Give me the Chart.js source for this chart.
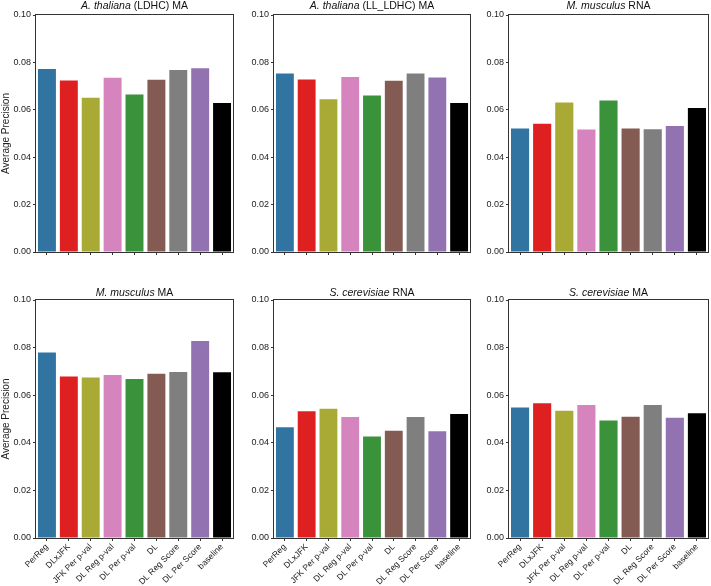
<!DOCTYPE html>
<html>
<head>
<meta charset="utf-8">
<script src="https://cdn.jsdelivr.net/npm/chart.js@4.4.1/dist/chart.umd.min.js"></script>
<style>
  body { margin: 0; background: #fff; }
  #wrap { position: relative; width: 711px; height: 586px; overflow: hidden; }
  .panel { position: absolute; }
</style>
</head>
<body>
<div id="wrap"></div>
<script>
const LABELS = ['PerReg','DLxJFK','JFK Per p-val','DL Reg p-val','DL Per p-val','DL','DL Reg Score','DL Per Score','baseline'];
const COLORS = ['#3274a1','#df2020','#a9aa35','#d584bd','#3a923a','#845b53','#7f7f7f','#9372b2','#000000'];
const Y_TICKS = [0, 0.02, 0.04, 0.06, 0.08, 0.10];

const ATH_LDHC_MA    = [0.0772, 0.0724, 0.0651, 0.0735, 0.0665, 0.0727, 0.0768, 0.0775, 0.0629];
const ATH_LL_LDHC_MA = [0.0753, 0.0728, 0.0644, 0.0738, 0.0660, 0.0723, 0.0753, 0.0736, 0.0629];
const MMU_RNA        = [0.0521, 0.0541, 0.0631, 0.0517, 0.0639, 0.0521, 0.0518, 0.0532, 0.0608];
const MMU_MA         = [0.0779, 0.0679, 0.0674, 0.0685, 0.0668, 0.0690, 0.0697, 0.0828, 0.0696];
const SCE_RNA        = [0.0465, 0.0533, 0.0543, 0.0508, 0.0426, 0.0451, 0.0508, 0.0449, 0.0521];
const SCE_MA         = [0.0548, 0.0566, 0.0535, 0.0559, 0.0494, 0.0509, 0.0559, 0.0505, 0.0524];

const PANELS = [
  { species: 'A. thaliana', rest: ' (LDHC) MA',    values: ATH_LDHC_MA,    row: 0, col: 0 },
  { species: 'A. thaliana', rest: ' (LL_LDHC) MA', values: ATH_LL_LDHC_MA, row: 0, col: 1 },
  { species: 'M. musculus', rest: ' RNA',          values: MMU_RNA,        row: 0, col: 2 },
  { species: 'M. musculus', rest: ' MA',           values: MMU_MA,         row: 1, col: 0 },
  { species: 'S. cerevisiae', rest: ' RNA',        values: SCE_RNA,        row: 1, col: 1 },
  { species: 'S. cerevisiae', rest: ' MA',         values: SCE_MA,         row: 1, col: 2 },
];

// layout of the grid (pixels)
const COL_BOX = [ { left: 0, width: 236, yw: 36 }, { left: 236, width: 237, yw: 38 }, { left: 470, width: 241, yw: 39 } ];
const ROW_BOX = [ { top: 0, height: 268, pad: 15, xh: 16, gap: 6 }, { top: 280, height: 306, pad: 20, xh: 48, gap: 4 } ];

const FONT = '"Liberation Sans", Arial, Helvetica, sans-serif';

const panelFrame = {
  id: 'panelFrame',
  afterDraw(chart, args, opts) {
    const { ctx, chartArea: a } = chart;
    ctx.save();
    const it = 'italic 10.5px ' + FONT;
    const rm = '10.5px ' + FONT;
    ctx.font = it; const w1 = ctx.measureText(opts.species).width;
    ctx.font = rm; const w2 = ctx.measureText(opts.rest).width;
    let x = (a.left + a.right) / 2 - (w1 + w2) / 2;
    const y = a.top - opts.gap;
    ctx.fillStyle = '#111';
    ctx.textBaseline = 'alphabetic';
    ctx.font = it; ctx.fillText(opts.species, x, y);
    ctx.font = rm; ctx.fillText(opts.rest, x + w1, y);
    ctx.strokeStyle = '#333';
    ctx.lineWidth = 1;
    ctx.strokeRect(Math.round(a.left) - 0.5, Math.round(a.top) - 0.5,
      Math.round(a.right - a.left) + 1, Math.round(a.bottom - a.top) + 1);
    ctx.restore();
  }
};

const wrap = document.getElementById('wrap');

PANELS.forEach((p, i) => {
  const c = COL_BOX[p.col], r = ROW_BOX[p.row];
  const div = document.createElement('div');
  div.className = 'panel';
  div.style.left = c.left + 'px';
  div.style.top = r.top + 'px';
  div.style.width = c.width + 'px';
  div.style.height = r.height + 'px';
  const canvas = document.createElement('canvas');
  div.appendChild(canvas);
  wrap.appendChild(div);

  const bottomRow = p.row === 1;
  const leftCol = p.col === 0;

  new Chart(canvas.getContext('2d'), {
    type: 'bar',
    data: {
      labels: LABELS,
      datasets: [{
        data: p.values,
        backgroundColor: COLORS,
        borderWidth: 0,
        barPercentage: 0.82,
        categoryPercentage: 1.0
      }]
    },
    options: {
      responsive: true, maintainAspectRatio: false, animation: false,
      layout: { padding: { top: r.pad, right: 3, left: 0, bottom: 0 } },
      plugins: {
        legend: { display: false },
        tooltip: { enabled: false },
        panelFrame: { species: p.species, rest: p.rest, gap: r.gap }
      },
      scales: {
        x: {
          offset: true,
          border: { display: false },
          grid: { display: true, offset: false, drawOnChartArea: false, drawTicks: true, tickLength: 3, color: '#333' },
          ticks: {
            autoSkip: false, minRotation: bottomRow ? 45 : 0, maxRotation: bottomRow ? 45 : 0,
            padding: 1, color: '#222', font: { family: FONT, size: 8.5 },
            callback: (v, idx) => bottomRow ? LABELS[idx] : ''
          },
          afterFit: s => { s.height = r.xh; }
        },
        y: {
          min: 0, max: 0.1,
          border: { display: false },
          grid: { display: true, drawOnChartArea: false, drawTicks: true, tickLength: 3, color: '#333' },
          ticks: { padding: 2, color: '#222', font: { family: FONT, size: 9 }, callback: v => Number(v).toFixed(2) },
          afterBuildTicks: s => { s.ticks = Y_TICKS.map(v => ({ value: v })); },
          title: { display: leftCol, text: 'Average Precision', color: '#222', padding: 0, font: { family: FONT, size: 10 } },
          afterFit: s => { s.width = c.yw; }
        }
      }
    },
    plugins: [panelFrame]
  });
});
</script>
</body>
</html>
